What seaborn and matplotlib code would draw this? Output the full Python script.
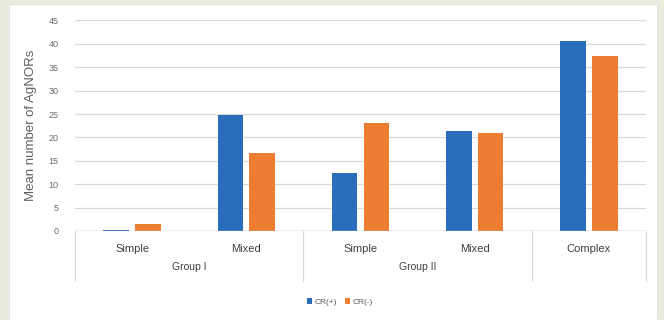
import matplotlib
matplotlib.use("Agg")
import matplotlib.pyplot as plt
import matplotlib.patches as mpatches
from matplotlib.lines import Line2D
import matplotlib.transforms as mtransforms
import seaborn as sns
import pandas as pd

# ---- data ----
groups = ["Group I", "Group I", "Group II", "Group II", ""]
categories = ["Simple", "Mixed", "Simple", "Mixed", "Complex"]
cr_pos = [0.3, 24.8, 12.5, 21.4, 40.7]
cr_neg = [1.6, 16.6, 23.0, 21.0, 37.4]
series_names = ["CR(+)", "CR(-)"]
y_ticks = [0, 5, 10, 15, 20, 25, 30, 35, 40, 45]
y_label = "Mean number of AgNORs"

colors = ["#2a6ebb", "#ed7d31"]

sns.set_theme(style="white")
plt.rcParams["font.family"] = ["Liberation Sans", "DejaVu Sans"]

keys = [f"{g}|{c}|{i}" for i, (g, c) in enumerate(zip(groups, categories))]
df = pd.DataFrame({
    "key": keys * 2,
    "value": cr_pos + cr_neg,
    "series": [series_names[0]] * len(keys) + [series_names[1]] * len(keys),
})

W, H = 664, 320
fig = plt.figure(figsize=(W / 100, H / 100), dpi=100)
fig.patch.set_facecolor("#e9ecdd")
# white panel behind everything
panel = mpatches.Rectangle((9 / W, 0), (657 - 9) / W, (320 - 4) / H,
                           transform=fig.transFigure, facecolor="white",
                           edgecolor="#e2e2e2", linewidth=0.8, zorder=-10)
fig.add_artist(panel)

ax_l, ax_r, ax_top, ax_bot = 75, 646, 20.4, 231
ax = fig.add_axes([ax_l / W, (H - ax_bot) / H, (ax_r - ax_l) / W, (ax_bot - ax_top) / H])
ax.set_zorder(5)
ax.set_facecolor("none")

sns.barplot(data=df, x="key", y="value", hue="series", order=keys,
            hue_order=series_names, palette=colors, width=0.56, gap=0.2,
            saturation=1, errorbar=None, legend=False, ax=ax, zorder=3)
for p in ax.patches:
    p.set_linewidth(0)

ax.set_ylim(0, 45)
ax.set_xlim(-0.5, len(keys) - 0.5)
ax.set_yticks(y_ticks)
ax.set_yticklabels([str(t) for t in y_ticks], fontsize=6.5, color="#6a6a6a")
ax.tick_params(axis="y", length=0, pad=12)
ax.yaxis.grid(True, color="#d9d9d9", linewidth=0.9, zorder=0)
ax.set_axisbelow(True)
for s in ax.spines.values():
    s.set_visible(False)
ax.axhline(0, color="#bfbfbf", linewidth=1.0, zorder=4)

ax.set_xticks(range(len(keys)))
ax.set_xticklabels(categories, fontsize=8, color="#404040")
ax.tick_params(axis="x", length=0, pad=9)
ax.set_xlabel("")

ax.set_ylabel(y_label, fontsize=9.5, color="#606060")
ax.yaxis.set_label_coords((37 - ax_l) / (ax_r - ax_l), 0.5)

# group labels (second level)
trans = mtransforms.blended_transform_factory(ax.transData, ax.transAxes)
group_y = -(267 - ax_bot) / (ax_bot - ax_top)
seen = {}
for i, g in enumerate(groups):
    if g:
        seen.setdefault(g, []).append(i)
for g, idx in seen.items():
    ax.text(sum(idx) / len(idx), group_y, g, transform=trans, ha="center",
            va="center", fontsize=7.5, color="#404040")

# separator lines of the multi-level axis
sep_bottom = -(281 - ax_bot) / (ax_bot - ax_top)
boundaries = [-0.5]
for i in range(1, len(groups)):
    if groups[i] != groups[i - 1]:
        boundaries.append(i - 0.5)
boundaries.append(len(groups) - 0.5)
for b in boundaries:
    ax.add_line(Line2D([b, b], [0, sep_bottom], transform=trans, color="#d9d9d9",
                       linewidth=0.9, clip_on=False))

# legend
handles = [mpatches.Patch(facecolor=c, edgecolor="none", label=n)
           for c, n in zip(colors, series_names)]
fig.legend(handles=handles, loc="center", bbox_to_anchor=(340 / W, (H - 302) / H),
           ncol=2, frameon=False, fontsize=6, handlelength=0.6, handleheight=0.6,
           handletextpad=0.3, columnspacing=1.0, labelcolor="#595959")

fig.savefig("out.png", dpi=100, facecolor=fig.get_facecolor())
